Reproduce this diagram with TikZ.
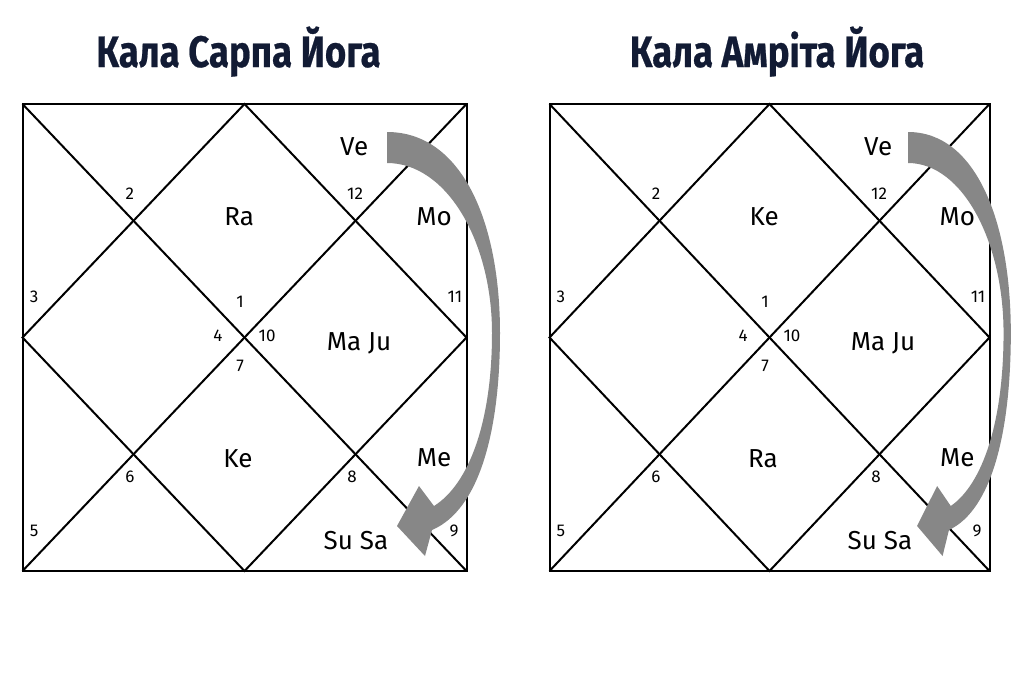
\documentclass[tikz,border=0pt]{standalone}
\usepackage{fontspec}
\setmainfont{Fira Sans}
\newfontfamily\titrefont{Fira Sans}[FakeBold=0.6]
\definecolor{titre}{RGB}{18,27,52}
\definecolor{fleche}{RGB}{135,135,135}
\tikzset{
  maison/.style={font=\fontsize{26}{28}\selectfont, inner sep=0pt},
  numero/.style={font=\fontsize{17}{19}\selectfont, inner sep=0pt},
  titreyoga/.style={font=\fontsize{44}{46}\selectfont\titrefont\bfseries, text=titre, xscale=0.83, anchor=base},
  trait/.style={line width=2pt},
}
\begin{document}
\begin{tikzpicture}[x=1pt,y=-1pt]
  \useasboundingbox (0,0) rectangle (1013,675);
  \foreach \i/\ox/\w/\tx/\ax/\as/\haut/\bas/\nom in
    {1/22.5/444/238.5/387/1/Ra/Ke/{Кала Сарпа Йога},
     2/549.5/440/777/908/0.91/Ke/Ra/{Кала Амріта Йога}}{
    % Titre
    \node[titreyoga] (titre\i) at (\tx,67) {\nom};

    % Carte : carré, diagonales et losange
    \begin{scope}[shift={(\ox pt,-104pt)}, x=\w pt, y=-467pt]
      \draw[trait] (0,0) rectangle (1,1);
      \draw[trait] (0,0) -- (1,1);
      \draw[trait] (1,0) -- (0,1);
      \draw[trait] (0.5,0) -- (1,0.5) -- (0.5,1) -- (0,0.5) -- cycle;

      % Numéros des maisons
      \node[numero] (n\i-1) at (0.490,0.424) {1};
      \node[numero] (n\i-2) at (0.242,0.193) {2};
      \node[numero] (n\i-3) at (0.026,0.413) {3};
      \node[numero] (n\i-4) at (0.440,0.497) {4};
      \node[numero] (n\i-5) at (0.026,0.914) {5};
      \node[numero] (n\i-6) at (0.242,0.799) {6};
      \node[numero] (n\i-7) at (0.490,0.561) {7};
      \node[numero] (n\i-8) at (0.742,0.799) {8};
      \node[numero] (n\i-9) at (0.972,0.914) {9};
      \node[numero] (n\i-10) at (0.551,0.497) {10};
      \node[numero] (n\i-11) at (0.974,0.413) {11};
      \node[numero] (n\i-12) at (0.749,0.193) {12};

      % Planètes
      \node[maison] (ve\i) at (0.747,0.092) {Ve};
      \node[maison] (haut\i) at (0.488,0.242) {\haut};
      \node[maison] (mo\i) at (0.927,0.242) {Mo};
      \node[maison] (maju\i) at (0.758,0.512) {Ma Ju};
      \node[maison] (bas\i) at (0.485,0.760) {\bas};
      \node[maison] (me\i) at (0.927,0.758) {Me};
      \node[maison] (susa\i) at (0.751,0.934) {Su Sa};
    \end{scope}

    % Flèche courbe de Ve vers Su Sa
    \begin{scope}[shift={(\ax pt,-132pt)}, xscale=\as]
      \fill[fleche] (0,0) .. controls (75,0) and (113,90) .. (113,201)
        .. controls (113,300) and (92,378) .. (45,398)
        -- (38,424) -- (10,394) -- (32,354) -- (47,374)
        .. controls (82,352) and (105,290) .. (105,201)
        .. controls (105,110) and (60,31) .. (0,31) -- cycle;
    \end{scope}
  }
\end{tikzpicture}
\end{document}
